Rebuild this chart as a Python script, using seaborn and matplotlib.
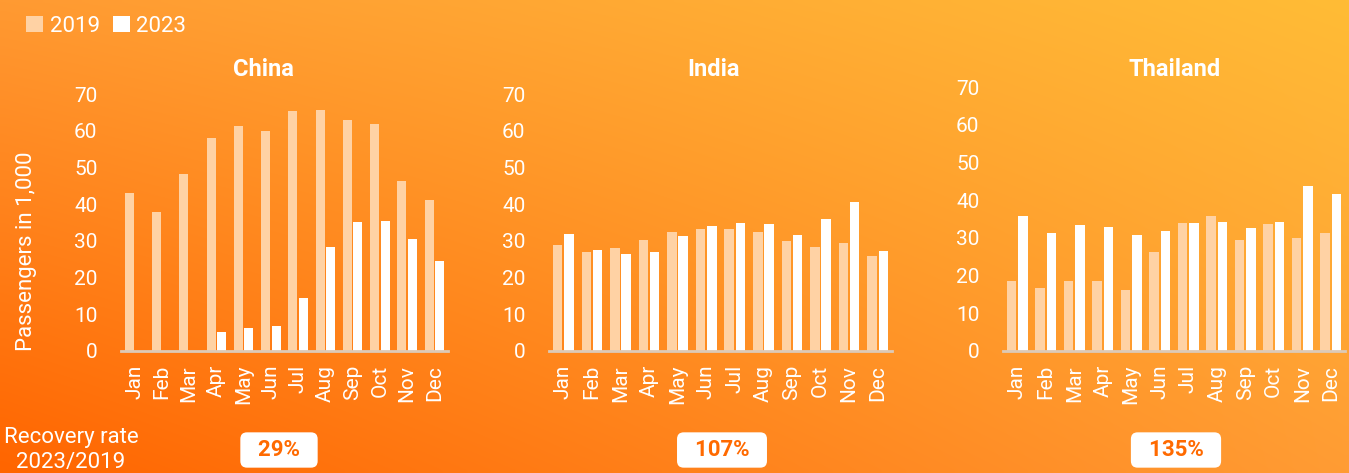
import numpy as np
import pandas as pd
import matplotlib
matplotlib.use('Agg')
import matplotlib.pyplot as plt
import seaborn as sns
from matplotlib.patches import Patch
from matplotlib.colors import to_rgb

# ── data (passengers in 1,000) ───────────────────────────────
MONTHS = ['Jan', 'Feb', 'Mar', 'Apr', 'May', 'Jun',
          'Jul', 'Aug', 'Sep', 'Oct', 'Nov', 'Dec']
YEARS = ['2019', '2023']

china_2019 = [43.0, 37.9, 48.2, 58.1, 61.4, 59.9, 65.4, 65.7, 62.9, 61.7, 46.3, 41.2]
china_2023 = [0, 0, 0, 5.3, 6.3, 6.7, 14.5, 28.3, 35.2, 35.4, 30.4, 24.5]

india_2019 = [29.0, 26.9, 28.1, 30.2, 32.4, 33.2, 33.1, 32.4, 30.0, 28.4, 29.3, 25.8]
india_2023 = [31.9, 27.4, 26.5, 27.1, 31.2, 34.1, 35.0, 34.7, 31.7, 36.0, 40.6, 27.2]

thai_2019 = [18.6, 16.8, 18.6, 18.6, 16.1, 26.3, 34.0, 35.7, 29.4, 33.8, 30.0, 31.3]
thai_2023 = [35.9, 31.4, 33.5, 32.9, 30.7, 31.7, 33.9, 34.2, 32.7, 34.3, 43.8, 41.7]

countries = ['China', 'India', 'Thailand']
recovery = ['29%', '107%', '135%']

C19 = '#FFD2A4'
C23 = '#FFFFFF'
ORANGE_TXT = '#FF6A00'
NARROW = ['Liberation Sans Narrow', 'Roboto', 'DejaVu Sans']

plt.rcParams['font.family'] = ['Roboto', 'DejaVu Sans']

W, H = 1349, 473
fig = plt.figure(figsize=(W / 100, H / 100), dpi=100)

# ── gradient background ─────────────────────────────────────
bg = fig.add_axes([0, 0, 1, 1], zorder=-10)
tl, tr = np.array(to_rgb('#FF9A32')), np.array(to_rgb('#FFBC36'))
bl, br = np.array(to_rgb('#FF6500')), np.array(to_rgb('#FF9C34'))
gx = np.linspace(0, 1, 200)[None, :, None]
gy = np.linspace(0, 1, 80)[:, None, None]
top = tl * (1 - gx) + tr * gx
bot = bl * (1 - gx) + br * gx
img = top * (1 - gy) + bot * gy
bg.imshow(np.clip(img, 0, 1), aspect='auto', extent=[0, 1, 0, 1], interpolation='bilinear')
bg.axis('off')


def px(x0, y_top, x1, y_bot):
    return [x0 / W, 1 - y_bot / H, (x1 - x0) / W, (y_bot - y_top) / H]


def draw_panel(ax, v19, v23):
    df = pd.DataFrame({
        'month': MONTHS * 2,
        'year': [YEARS[0]] * 12 + [YEARS[1]] * 12,
        'pax': list(v19) + list(v23),
    })
    sns.barplot(data=df, x='month', y='pax', hue='year', order=MONTHS,
                hue_order=YEARS, palette={'2019': C19, '2023': C23},
                saturation=1, width=0.78, gap=0.15, linewidth=0,
                legend=False, ax=ax)
    ax.set_facecolor('none')
    ax.set_ylim(0, 70)
    ax.set_yticks(range(0, 71, 10))
    ax.set_xlim(-0.5, 11.5)
    ax.set_xlabel('')
    ax.set_ylabel('')
    for s in ['top', 'right', 'left']:
        ax.spines[s].set_visible(False)
    ax.spines['bottom'].set_color('#DCCAB8')
    ax.spines['bottom'].set_linewidth(2)
    ax.tick_params(axis='y', length=0, pad=17, labelcolor='white', labelsize=15)
    ax.tick_params(axis='x', length=0, pad=10, labelcolor='white', labelsize=15,
                   labelrotation=90)
    ax.grid(False)


boxes = [px(121, 94, 448, 351), px(549, 94, 892, 351), px(1003, 87, 1345, 351)]
series = [(china_2019, china_2023), (india_2019, india_2023), (thai_2019, thai_2023)]
title_x = [263, 713, 1175]
badge_x = [279, 722, 1176]

for box, (a, b), name, tx, bx, rec in zip(boxes, series, countries, title_x, badge_x, recovery):
    ax = fig.add_axes(box)
    draw_panel(ax, a, b)
    fig.text(tx / W, 1 - 70 / H, name, color='white', fontsize=17,
             fontweight='bold', ha='center', va='center')
    fig.text(bx / W, 1 - 450 / H, f'  {rec}  ', color=ORANGE_TXT, fontsize=16,
             fontweight='bold', ha='center', va='center',
             bbox=dict(boxstyle='round,pad=0.3,rounding_size=0.3',
                       fc='white', ec='none'))

fig.text(27 / W, 1 - 251 / H, 'Passengers in 1,000', color='white', fontsize=16,
         rotation=90, ha='center', va='center')
fig.text(71 / W, 1 - 437 / H, 'Recovery rate', color='white', fontsize=16,
         ha='center', va='center', family=NARROW)
fig.text(71 / W, 1 - 462 / H, '2023/2019', color='white', fontsize=16,
         ha='center', va='center', family=NARROW)

handles = [Patch(facecolor=C19, edgecolor='none', label='2019'),
           Patch(facecolor=C23, edgecolor='none', label='2023')]
leg = fig.legend(handles=handles, loc='upper left', bbox_to_anchor=(0.008, 1.0),
                 ncol=2, frameon=False, fontsize=16, handlelength=0.75,
                 handleheight=0.75, handletextpad=0.3, columnspacing=0.6,
                 borderaxespad=0.3)
for t in leg.get_texts():
    t.set_color('white')

fig.savefig('out.png', dpi=100)
